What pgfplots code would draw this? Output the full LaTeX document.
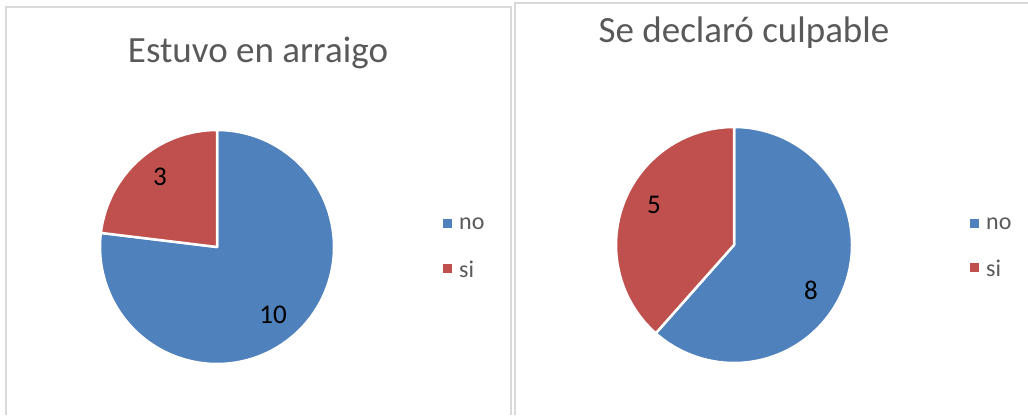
\documentclass[border=0pt]{standalone}
\usepackage{pgfplots}
\pgfplotsset{compat=1.18}
\usepackage{fontspec}
\setmainfont{Carlito}
\definecolor{pblue}{HTML}{4F81BD}
\definecolor{pred}{HTML}{C0504D}
\definecolor{tgray}{HTML}{595959}
\definecolor{bgray}{HTML}{D9D9D9}
% data
\def\noA{10}\def\siA{3}%
\def\noB{8}\def\siB{5}%
\pgfmathsetmacro{\endA}{90-360*\noA/(\noA+\siA)}%
\pgfmathsetmacro{\endB}{90-360*\noB/(\noB+\siB)}%
\begin{document}%
\begin{tikzpicture}
\begin{axis}[
  hide axis, x=1pt, y=1pt,
  xmin=0, xmax=1028, ymin=0, ymax=415,
  clip=false, at={(0,0)}, anchor=south west,
]
% panel borders
\draw[bgray, line width=1.5pt] (axis cs:6,0) -- (axis cs:6,408) -- (axis cs:511,408) -- (axis cs:511,0);
\draw[bgray, line width=1.5pt] (axis cs:515,0) -- (axis cs:515,412) -- (axis cs:1028,412);
% pie A
\fill[pblue, draw=white, line width=2.5pt, line join=round] (axis cs:217,168) -- ++(90:117pt) arc[start angle=90, end angle=\endA, radius=117pt] -- cycle;
\fill[pred, draw=white, line width=2.5pt, line join=round] (axis cs:217,168) -- ++(\endA:117pt) arc[start angle=\endA, end angle=-270, radius=117pt] -- cycle;
% pie B
\fill[pblue, draw=white, line width=2.5pt, line join=round] (axis cs:734,170) -- ++(90:118pt) arc[start angle=90, end angle=\endB, radius=118pt] -- cycle;
\fill[pred, draw=white, line width=2.5pt, line join=round] (axis cs:734,170) -- ++(\endB:118pt) arc[start angle=\endB, end angle=-270, radius=118pt] -- cycle;
% titles
\node[anchor=base, text=tgray, font=\fontsize{37}{40}\selectfont] at (axis cs:258,352) {Estuvo en arraigo};
\node[anchor=base, text=tgray, font=\fontsize{37}{40}\selectfont] at (axis cs:744,372) {Se declaró culpable};
% data labels
\node[font=\fontsize{27}{30}\selectfont] at (axis cs:160,238) {\siA};
\node[font=\fontsize{27}{30}\selectfont] at (axis cs:273,100) {\noA};
\node[font=\fontsize{27}{30}\selectfont] at (axis cs:654,210) {\siB};
\node[font=\fontsize{27}{30}\selectfont] at (axis cs:811,125) {\noB};
% legends
\fill[pblue] (axis cs:442.5,186.5) rectangle (axis cs:451.5,195.5);
\fill[pred] (axis cs:442.5,141.5) rectangle (axis cs:451.5,150.5);
\node[anchor=west, text=tgray, font=\fontsize{24}{26}\selectfont, inner sep=0pt] at (axis cs:459,191) {no};
\node[anchor=west, text=tgray, font=\fontsize{24}{26}\selectfont, inner sep=0pt] at (axis cs:459,146) {si};
\fill[pblue] (axis cs:969.5,186.5) rectangle (axis cs:978.5,195.5);
\fill[pred] (axis cs:969.5,142.5) rectangle (axis cs:978.5,151.5);
\node[anchor=west, text=tgray, font=\fontsize{24}{26}\selectfont, inner sep=0pt] at (axis cs:986,191) {no};
\node[anchor=west, text=tgray, font=\fontsize{24}{26}\selectfont, inner sep=0pt] at (axis cs:986,147) {si};
\end{axis}
\pgfresetboundingbox
\path (0,0) rectangle (1028pt,415pt);
\end{tikzpicture}%
\end{document}
